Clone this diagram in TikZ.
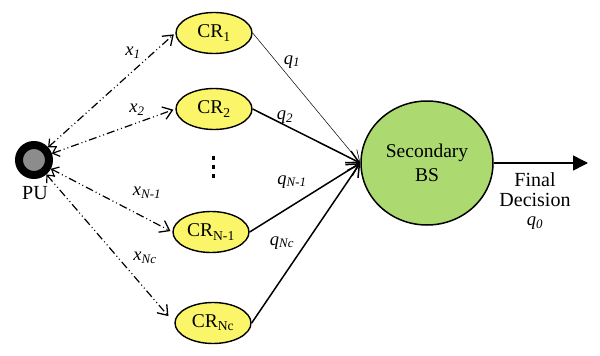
\documentclass[tikz,border=0pt]{standalone}
\usepackage{fontspec}
\setmainfont{Liberation Serif}
\usetikzlibrary{arrows.meta,shapes.geometric}
\definecolor{cryellow}{RGB}{250,245,105}
\definecolor{bsgreen}{RGB}{172,218,112}
\definecolor{pugray}{RGB}{140,140,140}
\begin{document}
\begin{tikzpicture}[x=1pt,y=-1pt,
  crnode/.style={ellipse,draw,line width=1.4pt,fill=cryellow,minimum width=76pt,minimum height=41pt,inner sep=0pt,font=\fontsize{19.5}{20}\selectfont},
  bsnode/.style={ellipse,draw,line width=1.5pt,fill=bsgreen,minimum width=132pt,minimum height=124pt,inner sep=0pt,align=center,font=\fontsize{19.5}{24}\selectfont},
  punode/.style={circle,draw,line width=8pt,fill=pugray,minimum size=30pt,inner sep=0pt},
  lbl/.style={font=\fontsize{18.5}{20}\selectfont\itshape,inner sep=0pt},
  txt/.style={font=\fontsize{20}{20}\selectfont,inner sep=0pt,align=center},
  dd/.style={line width=1.2pt,dash pattern=on 8pt off 3pt on 1pt off 3pt on 1pt off 3pt,
     {Straight Barb[length=6pt,width=11pt,line width=1.2pt]}-{Straight Barb[length=9pt,width=13pt,line width=1.3pt]},shorten >=2pt},
  rep/.style={line width=1.5pt,-{Straight Barb[length=12pt,width=13pt,line width=1.5pt]}},
  dotm/.style={fill=black,minimum width=3.5pt,minimum height=4pt,inner sep=0pt,draw=none,rectangle}
]
\useasboundingbox (0,0) rectangle (600,356);
\node[punode] (pu) at (34,160) {};
\node[txt] (pulbl) at (35,193) {PU};
\node[crnode] (cr1) at (214,33) {CR\textsubscript{1}};
\node[crnode] (cr2) at (214,109) {CR\textsubscript{2}};
\node[crnode] (cr3) at (211,232) {CR\textsubscript{N-1}};
\node[crnode] (cr4) at (213,323) {CR\textsubscript{Nc}};
\node[dotm] (d1) at (213.5,158) {};
\node[dotm] (d2) at (213.5,167) {};
\node[dotm] (d3) at (213.5,176) {};
\node[bsnode] (bs) at (427,163) {Secondary\\BS};
\coordinate (outend) at (588,163);
\draw[line width=1.5pt,-{Triangle[length=15pt,width=15pt]}] (bs.east) -- (outend);
\node[txt] (fd) at (535,190) {Final\\Decision};
\node[lbl] (q0) at (535,223) {q\textsubscript{0}};

\draw[dd] (pu) -- (cr1.west);
\draw[dd] (pu) -- (cr2.west);
\draw[dd] (pu) -- (cr3.west);
\draw[dd,shorten >=9pt] (pu) -- (cr4.west);
\node[lbl] (lx1) at (133,53) {x\textsubscript{1}};
\node[lbl] (lx2) at (137,110) {x\textsubscript{2}};
\node[lbl] (lx3) at (147,193) {x\textsubscript{N-1}};
\node[lbl] (lx4) at (145,258) {x\textsubscript{Nc}};

\draw[line width=0.5pt,-{Straight Barb[length=12pt,width=12pt,line width=0.6pt]}] (cr1.east) -- (bs.west);
\draw[rep] (cr2.east) -- (bs.west);
\draw[rep] (cr3.east) -- (bs.west);
\draw[rep] (cr4.east) -- (bs.west);
\node[lbl] (lq1) at (292,62) {q\textsubscript{1}};
\node[lbl] (lq2) at (285,117) {q\textsubscript{2}};
\node[lbl] (lq3) at (292,182) {q\textsubscript{N-1}};
\node[lbl] (lq4) at (282,243) {q\textsubscript{Nc}};
\end{tikzpicture}
\end{document}
